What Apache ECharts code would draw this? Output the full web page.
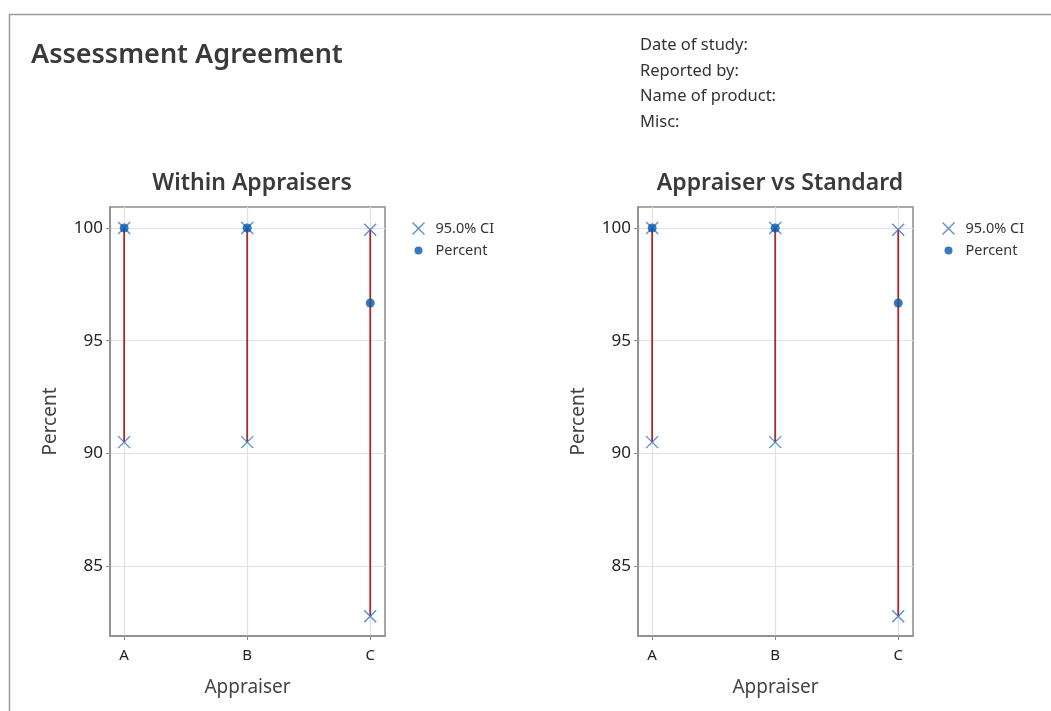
<!DOCTYPE html>
<html><head><meta charset="utf-8">
<script src="https://cdn.jsdelivr.net/npm/echarts@6/dist/echarts.min.js"></script>
<style>html,body{margin:0;padding:0;background:#fff}#c{width:1051px;height:711px}</style>
</head><body><div id="c"></div>
<script>
const categories = ['A', 'B', 'C'];
const withinPercent = [100, 100, 96.67];
const withinLower = [90.50, 90.50, 82.78];
const withinUpper = [100, 100, 99.92];
const standardPercent = [100, 100, 96.67];
const standardLower = [90.50, 90.50, 82.78];
const standardUpper = [100, 100, 99.92];
const yTicks = [85, 90, 95, 100];
const headerLines = ['Date of study:', 'Reported by:', 'Name of product:', 'Misc:'];

const FONT = 'Noto Sans';
const XPATH = 'path://M0,0L10,10M10,0L0,10';
const DOTPATH = 'path://M0,0M12,12M6,2A4,4,0,1,0,6.001,2Z';
const xColor = '#2f72c6';
const dotColor = '#0a57aa';
const lineColor = '#a82a2c';

function gridOpt(left) { return {left: left, top: 207, width: 275, height: 429, show: true, borderColor: '#8c8c8c', borderWidth: 1.5, backgroundColor: 'transparent'}; }

function xAxisOpt(i) {
  return {
    type: 'value', gridIndex: i, min: -0.115, max: 2.12,
    name: 'Appraiser', nameLocation: 'middle', nameGap: 42,
    nameTextStyle: {fontFamily: FONT, fontSize: 19, color: '#444'},
    axisLine: {show: true, onZero: false, lineStyle: {color: '#8c8c8c', width: 1.5}},
    axisTick: {show: true, length: 4, customValues: [0, 1, 2], lineStyle: {color: '#8c8c8c'}},
    axisLabel: {customValues: [0, 1, 2], formatter: v => categories[Math.round(v)], fontFamily: FONT, fontSize: 15, color: '#222', margin: 12},
    splitLine: {show: true, lineStyle: {color: '#e2e2e2', width: 1.2}}
  };
}
function yAxisOpt(i) {
  return {
    type: 'value', gridIndex: i, min: 81.9, max: 100.93,
    name: 'Percent', nameLocation: 'middle', nameGap: 50,
    nameTextStyle: {fontFamily: FONT, fontSize: 19, color: '#444'},
    axisLine: {show: true, onZero: false, lineStyle: {color: '#8c8c8c', width: 1.5}},
    axisTick: {show: true, length: 4, customValues: yTicks, lineStyle: {color: '#8c8c8c'}},
    axisLabel: {customValues: yTicks, fontFamily: FONT, fontSize: 17, color: '#222', margin: 7},
    splitLine: {show: true, lineStyle: {color: '#e2e2e2', width: 1.2}}
  };
}

function ciSeries(i, lower, upper) {
  return {
    type: 'custom', xAxisIndex: i, yAxisIndex: i, z: 2, silent: true,
    data: categories.map((c, k) => [k, lower[k], upper[k]]),
    renderItem: function (params, api) {
      const p1 = api.coord([api.value(0), api.value(1)]);
      const p2 = api.coord([api.value(0), api.value(2)]);
      return {type: 'line', shape: {x1: p1[0], y1: p1[1], x2: p2[0], y2: p2[1]}, style: {stroke: lineColor, lineWidth: 1.8}};
    }
  };
}
function xSeries(i, lower, upper) {
  const d = [];
  categories.forEach((c, k) => { d.push([k, lower[k]]); d.push([k, upper[k]]); });
  return {
    name: '95.0% CI', type: 'scatter', xAxisIndex: i, yAxisIndex: i, z: 3,
    symbol: XPATH, symbolSize: 12,
    itemStyle: {color: 'none', borderColor: xColor, borderWidth: 1.4},
    data: d
  };
}
function dotSeries(i, pct) {
  return {
    name: 'Percent', type: 'scatter', xAxisIndex: i, yAxisIndex: i, z: 4,
    symbol: 'circle', symbolSize: 9,
    itemStyle: {color: dotColor},
    data: categories.map((c, k) => [k, pct[k]])
  };
}
function legendOpt(left) {
  return {
    left: left, top: 215, orient: 'vertical', itemGap: 6, itemWidth: 12, itemHeight: 12,
    selectedMode: false,
    textStyle: {fontFamily: FONT, fontSize: 14.5, color: '#333', padding: [0, 0, 0, 6]},
    data: [
      {name: '95.0% CI', icon: XPATH, itemStyle: {color: 'none', borderColor: xColor, borderWidth: 1.4}},
      {name: 'Percent', icon: DOTPATH, itemStyle: {color: dotColor}}
    ]
  };
}

const chart = echarts.init(document.getElementById('c'), null, {renderer: 'canvas'});
chart.setOption({
  backgroundColor: '#fff',
  animation: false,
  title: [
    {text: 'Assessment Agreement', left: 26, top: 37, textStyle: {fontFamily: FONT, fontSize: 27, fontWeight: 600, color: '#3a3a3a'}},
    {text: 'Within Appraisers', left: 247, textAlign: 'center', top: 167, textStyle: {fontFamily: FONT, fontSize: 23, fontWeight: 600, color: '#3a3a3a'}},
    {text: 'Appraiser vs Standard', left: 775, textAlign: 'center', top: 167, textStyle: {fontFamily: FONT, fontSize: 23, fontWeight: 600, color: '#3a3a3a'}},
    {text: headerLines.join('\n'), left: 635, top: 28, textStyle: {fontFamily: FONT, fontSize: 16.5, fontWeight: 'normal', color: '#333', lineHeight: 25.5}}
  ],
  graphic: [
    {type: 'rect', shape: {x: 9.5, y: 14.5, width: 1100, height: 800}, style: {fill: 'none', stroke: '#9a9a9a', lineWidth: 1.5}, silent: true, z: -10}
  ],
  legend: [legendOpt(405), legendOpt(935)],
  grid: [gridOpt(110), gridOpt(638)],
  xAxis: [xAxisOpt(0), xAxisOpt(1)],
  yAxis: [yAxisOpt(0), yAxisOpt(1)],
  series: [
    ciSeries(0, withinLower, withinUpper), xSeries(0, withinLower, withinUpper), dotSeries(0, withinPercent),
    ciSeries(1, standardLower, standardUpper), xSeries(1, standardLower, standardUpper), dotSeries(1, standardPercent)
  ]
});
</script></body></html>
